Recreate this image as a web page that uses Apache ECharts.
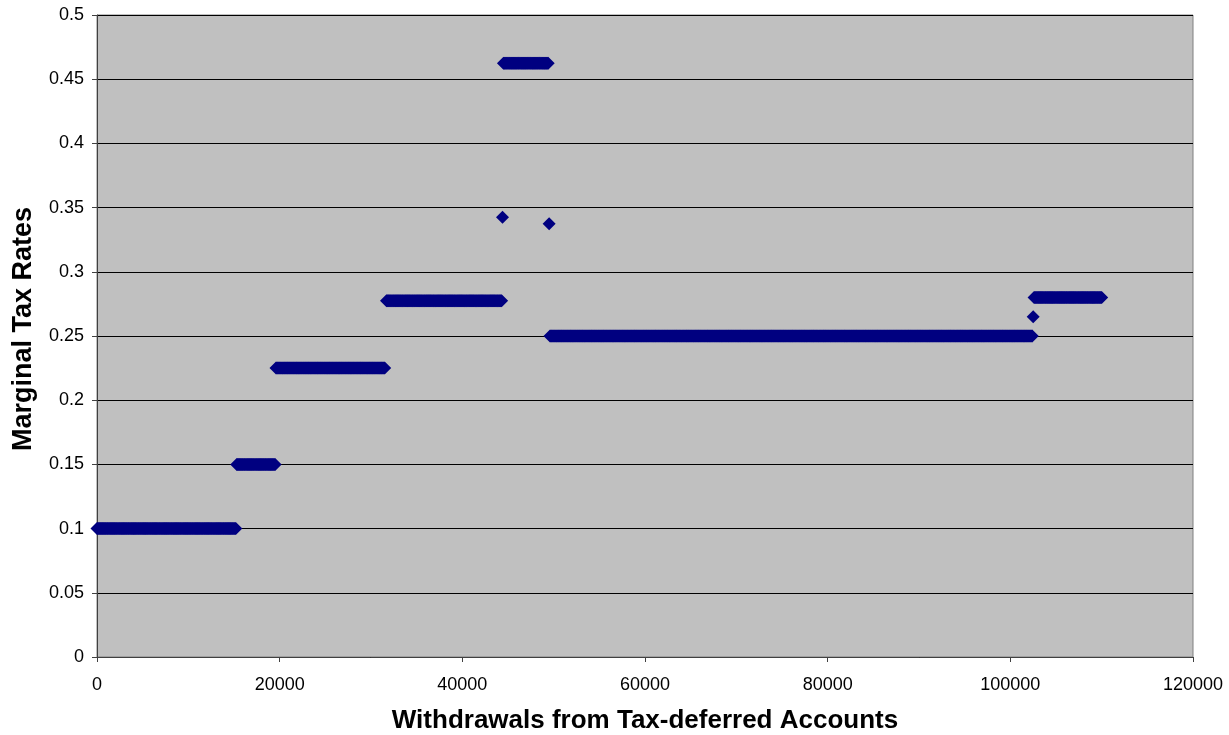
<!DOCTYPE html>
<html>
<head>
<meta charset="utf-8">
<script src="https://cdn.jsdelivr.net/npm/echarts@6/dist/echarts.min.js"></script>
<style>
html,body{margin:0;padding:0;background:#fff;}
#chart{width:1229px;height:735px;}
</style>
</head>
<body>
<div id="chart"></div>
<script>
// Withdrawals are sampled every withdrawalStep dollars; within each bracket the marginal rate is constant
const withdrawalStep = 100;
const bracketStart = [0, 15300, 19600, 31700, 44500, 49600, 102600];
const bracketEnd   = [15200, 19500, 31500, 44300, 49400, 102400, 110000];
const bracketRate  = [0.10, 0.15, 0.225, 0.2775, 0.4625, 0.25, 0.28];
// isolated points at the bracket transitions
const transitionX    = [44400, 49500, 102500];
const transitionRate = [0.3425, 0.3375, 0.265];

const xTicks = [0, 20000, 40000, 60000, 80000, 100000, 120000];
const yTicks = [0, 0.05, 0.1, 0.15, 0.2, 0.25, 0.3, 0.35, 0.4, 0.45, 0.5];

const points = [];
for (let i = 0; i < bracketRate.length; i++) {
  for (let x = bracketStart[i]; x <= bracketEnd[i]; x += withdrawalStep) {
    points.push([x, bracketRate[i]]);
  }
}
for (let i = 0; i < transitionX.length; i++) points.push([transitionX[i], transitionRate[i]]);

const chart = echarts.init(document.getElementById('chart'), null, {renderer: 'canvas'});
const font = 'Liberation Sans, Arial, sans-serif';
chart.setOption({
  animation: false,
  backgroundColor: '#ffffff',
  grid: {
    left: 97, right: 36, top: 15, bottom: 78,
    containLabel: false, outerBoundsMode: 'none',
    show: true, backgroundColor: '#C0C0C0', borderColor: '#808080', borderWidth: 1
  },
  xAxis: {
    type: 'value', min: xTicks[0], max: xTicks[xTicks.length - 1], interval: 20000,
    name: 'Withdrawals from Tax-deferred Accounts',
    nameLocation: 'middle', nameGap: 51,
    nameTextStyle: {fontFamily: font, fontSize: 26, fontWeight: 'bold', color: '#000'},
    axisLine: {show: true, onZero: false, lineStyle: {color: '#404040', width: 1}},
    axisTick: {show: true, length: 5, lineStyle: {color: '#404040'}},
    axisLabel: {fontFamily: font, fontSize: 18, color: '#000', margin: 19, formatter: v => String(v)},
    splitLine: {show: false}
  },
  yAxis: {
    type: 'value', min: yTicks[0], max: yTicks[yTicks.length - 1], interval: 0.05,
    name: 'Marginal Tax Rates',
    nameLocation: 'middle', nameGap: 60, nameRotate: 90,
    nameTextStyle: {fontFamily: font, fontSize: 27, fontWeight: 'bold', color: '#000', padding: [0, 0, 0, 14]},
    axisLine: {show: true, lineStyle: {color: '#404040', width: 1}},
    axisTick: {show: true, length: 5, lineStyle: {color: '#404040'}},
    axisLabel: {fontFamily: font, fontSize: 18, color: '#000', margin: 13,
      formatter: v => String(Math.round(v * 100) / 100)},
    splitLine: {show: true, lineStyle: {color: '#000000', width: 1}}
  },
  series: [{
    type: 'scatter',
    data: points,
    symbol: 'diamond',
    symbolSize: 13,
    itemStyle: {color: '#000080', opacity: 1},
    silent: true
  }]
});
</script>
</body>
</html>
